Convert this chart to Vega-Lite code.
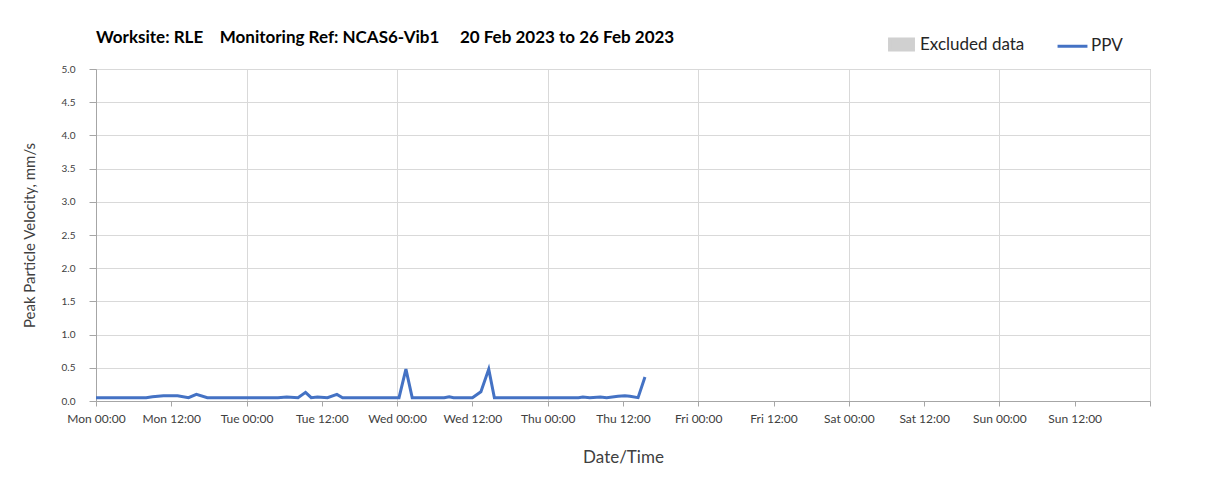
{
  "$schema": "https://vega.github.io/schema/vega-lite/v6.json",
  "width": 1054,
  "height": 332,
  "autosize": {"type": "none"},
  "padding": {"left": 96, "top": 69, "right": 58, "bottom": 95},
  "background": "white",
  "config": {"font": "Lato", "view": {"stroke": "#b0b0b0", "strokeWidth": 1}},
  "title": {
    "text": "Worksite: RLE\u00a0\u00a0\u00a0 Monitoring Ref: NCAS6-Vib1\u00a0\u00a0\u00a0\u00a0 20 Feb 2023 to 26 Feb 2023",
    "anchor": "start",
    "frame": "group",
    "offset": -17,
    "fontSize": 17,
    "fontWeight": "bold",
    "color": "#000000",
    "font": "Lato"
  },
  "data": {
    "values": [
      {"time": "2023-02-20T00:00", "ppv": 0.05, "series": "PPV"},
      {"time": "2023-02-20T04:00", "ppv": 0.05, "series": "PPV"},
      {"time": "2023-02-20T08:00", "ppv": 0.05, "series": "PPV"},
      {"time": "2023-02-20T09:00", "ppv": 0.065, "series": "PPV"},
      {"time": "2023-02-20T10:45", "ppv": 0.08, "series": "PPV"},
      {"time": "2023-02-20T13:00", "ppv": 0.08, "series": "PPV"},
      {"time": "2023-02-20T14:45", "ppv": 0.05, "series": "PPV"},
      {"time": "2023-02-20T16:00", "ppv": 0.10, "series": "PPV"},
      {"time": "2023-02-20T17:45", "ppv": 0.05, "series": "PPV"},
      {"time": "2023-02-21T00:00", "ppv": 0.05, "series": "PPV"},
      {"time": "2023-02-21T05:00", "ppv": 0.05, "series": "PPV"},
      {"time": "2023-02-21T06:24", "ppv": 0.06, "series": "PPV"},
      {"time": "2023-02-21T08:12", "ppv": 0.05, "series": "PPV"},
      {"time": "2023-02-21T09:24", "ppv": 0.13, "series": "PPV"},
      {"time": "2023-02-21T10:18", "ppv": 0.05, "series": "PPV"},
      {"time": "2023-02-21T11:18", "ppv": 0.06, "series": "PPV"},
      {"time": "2023-02-21T12:54", "ppv": 0.05, "series": "PPV"},
      {"time": "2023-02-21T14:24", "ppv": 0.10, "series": "PPV"},
      {"time": "2023-02-21T15:18", "ppv": 0.05, "series": "PPV"},
      {"time": "2023-02-21T20:00", "ppv": 0.05, "series": "PPV"},
      {"time": "2023-02-22T00:18", "ppv": 0.05, "series": "PPV"},
      {"time": "2023-02-22T01:24", "ppv": 0.48, "series": "PPV"},
      {"time": "2023-02-22T02:24", "ppv": 0.05, "series": "PPV"},
      {"time": "2023-02-22T07:30", "ppv": 0.05, "series": "PPV"},
      {"time": "2023-02-22T08:18", "ppv": 0.065, "series": "PPV"},
      {"time": "2023-02-22T09:00", "ppv": 0.05, "series": "PPV"},
      {"time": "2023-02-22T12:00", "ppv": 0.05, "series": "PPV"},
      {"time": "2023-02-22T13:21", "ppv": 0.14, "series": "PPV"},
      {"time": "2023-02-22T14:36", "ppv": 0.48, "series": "PPV"},
      {"time": "2023-02-22T15:30", "ppv": 0.05, "series": "PPV"},
      {"time": "2023-02-23T00:00", "ppv": 0.05, "series": "PPV"},
      {"time": "2023-02-23T04:54", "ppv": 0.05, "series": "PPV"},
      {"time": "2023-02-23T05:36", "ppv": 0.06, "series": "PPV"},
      {"time": "2023-02-23T06:42", "ppv": 0.05, "series": "PPV"},
      {"time": "2023-02-23T08:24", "ppv": 0.06, "series": "PPV"},
      {"time": "2023-02-23T09:24", "ppv": 0.05, "series": "PPV"},
      {"time": "2023-02-23T11:12", "ppv": 0.07, "series": "PPV"},
      {"time": "2023-02-23T12:18", "ppv": 0.08, "series": "PPV"},
      {"time": "2023-02-23T13:06", "ppv": 0.07, "series": "PPV"},
      {"time": "2023-02-23T14:24", "ppv": 0.05, "series": "PPV"},
      {"time": "2023-02-23T15:30", "ppv": 0.36, "series": "PPV"}
    ]
  },
  "mark": {"type": "line", "strokeWidth": 3, "interpolate": "linear"},
  "encoding": {
    "x": {
      "field": "time",
      "type": "temporal",
      "scale": {
        "domain": [
          {"year": 2023, "month": 2, "date": 20},
          {"year": 2023, "month": 2, "date": 27}
        ],
        "nice": false
      },
      "axis": {
        "title": "Date/Time",
        "values": [
          {"year": 2023, "month": 2, "date": 20, "hours": 0},
          {"year": 2023, "month": 2, "date": 20, "hours": 12},
          {"year": 2023, "month": 2, "date": 21, "hours": 0},
          {"year": 2023, "month": 2, "date": 21, "hours": 12},
          {"year": 2023, "month": 2, "date": 22, "hours": 0},
          {"year": 2023, "month": 2, "date": 22, "hours": 12},
          {"year": 2023, "month": 2, "date": 23, "hours": 0},
          {"year": 2023, "month": 2, "date": 23, "hours": 12},
          {"year": 2023, "month": 2, "date": 24, "hours": 0},
          {"year": 2023, "month": 2, "date": 24, "hours": 12},
          {"year": 2023, "month": 2, "date": 25, "hours": 0},
          {"year": 2023, "month": 2, "date": 25, "hours": 12},
          {"year": 2023, "month": 2, "date": 26, "hours": 0},
          {"year": 2023, "month": 2, "date": 26, "hours": 12},
          {"year": 2023, "month": 2, "date": 27, "hours": 0}
        ],
        "format": "%a %H:%M",
        "labelExpr": "date(datum.value) == 27 ? '' : datum.label",
        "labelFontSize": 12,
        "labelColor": "#404040",
        "labelFlush": false,
        "labelOverlap": false,
        "labelPadding": 7,
        "tickSize": 5,
        "tickColor": "#a6a6a6",
        "domainColor": "#a6a6a6",
        "grid": true,
        "gridColor": "#d9d9d9",
        "gridOpacity": {"condition": {"test": "hours(datum.value) == 0", "value": 1}, "value": 0},
        "titleFontSize": 17,
        "titleFontWeight": "normal",
        "titleColor": "#404040",
        "titlePadding": 25
      }
    },
    "y": {
      "field": "ppv",
      "type": "quantitative",
      "scale": {"domain": [0, 5], "nice": false},
      "axis": {
        "title": "Peak Particle Velocity, mm/s",
        "values": [0, 0.5, 1, 1.5, 2, 2.5, 3, 3.5, 4, 4.5, 5],
        "format": ".1f",
        "labelFontSize": 10,
        "labelColor": "#404040",
        "labelFlush": false,
        "labelPadding": 14,
        "tickSize": 7,
        "tickColor": "#a6a6a6",
        "domainColor": "#a6a6a6",
        "gridColor": "#d9d9d9",
        "titleFontSize": 15,
        "titleFontWeight": "normal",
        "titleColor": "#404040",
        "titlePadding": 24
      }
    },
    "color": {
      "field": "series",
      "type": "nominal",
      "scale": {"domain": ["Excluded data", "PPV"], "range": ["#d0d0d0", "#4472c4"]},
      "legend": {
        "title": null,
        "orient": "none",
        "legendX": 791,
        "legendY": -39,
        "direction": "horizontal",
        "labelFontSize": 17,
        "labelColor": "#262626",
        "symbolSize": 676,
        "columnPadding": 26,
        "labelOffset": 4,
        "encode": {
          "symbols": {
            "update": {
              "shape": {"signal": "datum.value === 'PPV' ? 'M-1.15,0H1.15' : 'M-0.92,-0.42H0.92V0.42H-0.92Z'"},
              "fill": {"signal": "datum.value === 'PPV' ? 'transparent' : '#d0d0d0'"},
              "stroke": {"signal": "datum.value === 'PPV' ? '#4472c4' : 'transparent'"},
              "strokeWidth": {"value": 3},
              "opacity": {"value": 1}
            }
          }
        }
      }
    }
  }
}
